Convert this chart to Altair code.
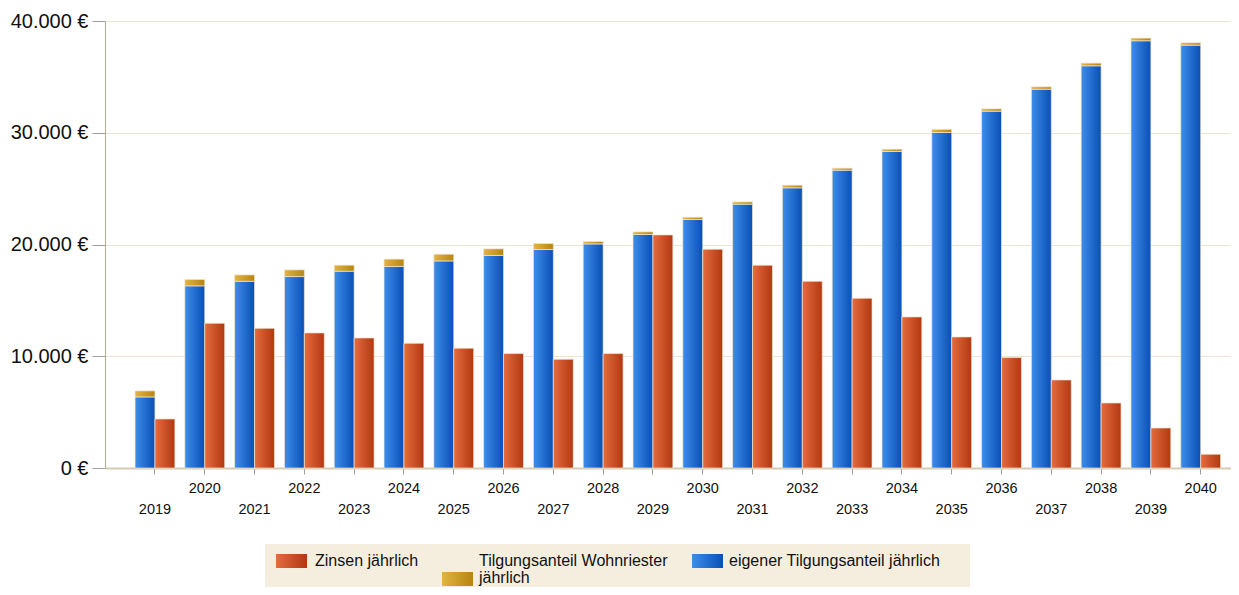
import altair as alt
import pandas as pd

years = list(range(2019, 2041))
eigen = [6360, 16300, 16710, 17130, 17610, 18030, 18530, 19020, 19550, 20050, 20900,
         22240, 23610, 25070, 26650, 28330, 30030, 31930, 33900, 35990, 38230, 37840]
riester = [540, 570, 570, 600, 540, 660, 600, 590, 540, 220, 230,
           200, 200, 240, 180, 200, 270, 210, 210, 240, 240, 210]
zinsen = [4390, 12950, 12500, 12090, 11640, 11160, 10720, 10240, 9730, 10240, 20860,
          19580, 18150, 16710, 15190, 13520, 11730, 9880, 7880, 5820, 3580, 1230]
legend_labels = ["Zinsen jährlich", "Tilgungsanteil Wohnriester\njährlich",
                 "eigener Tilgungsanteil jährlich"]

df = pd.DataFrame({"year": years, "eigen": eigen, "riester": riester, "zinsen": zinsen})

FONT = "Liberation Sans"
BG = "#f5eedf"


def grad(c0, c1):
    return alt.Gradient(
        gradient="linear",
        stops=[alt.GradientStop(color=c0, offset=0), alt.GradientStop(color=c1, offset=1)],
        x1=0, x2=1, y1=0, y2=0,
    )


blue_g = grad("#3d8dea", "#0a4fb6")
red_g = grad("#e56b3f", "#b13810")
gold_g = grad("#e3b344", "#b6850f")

xscale = alt.Scale(paddingInner=0.2, paddingOuter=0.406, align=0.743)
xaxis = alt.Axis(title=None, labels=False, ticks=True, tickSize=6, tickColor="#9a9a9a",
                 domainColor="#d6cab4", domainWidth=2, grid=False)
X = alt.X("year:O", scale=xscale, axis=xaxis)
XO = alt.XOffset("grp:N", scale=alt.Scale(domain=["T", "Z"], paddingInner=0, paddingOuter=0))

yaxis = alt.Axis(title=None, values=[0, 10000, 20000, 30000, 40000],
                 labelExpr="replace(format(datum.value, ','), ',', '.') + ' €'",
                 labelFontSize=20, labelColor="#111111", labelPadding=4, labelFont=FONT,
                 tickSize=13, tickColor="#a0a0a0", domainColor="#b5a88f",
                 gridColor="#eee4d2", grid=True)
yscale = alt.Scale(domain=[0, 40000], nice=False)

base = alt.Chart(df)
bar_style = dict(stroke="#efe6d2", strokeWidth=1, strokeOpacity=0.7)

red = base.transform_calculate(grp="'Z'").mark_bar(color=red_g, **bar_style).encode(
    x=X, xOffset=XO, y=alt.Y("zinsen:Q", scale=yscale, axis=yaxis))
blue = base.transform_calculate(grp="'T'").mark_bar(color=blue_g, **bar_style).encode(
    x=X, xOffset=XO, y=alt.Y("eigen:Q", scale=yscale, axis=yaxis))
gold = base.transform_calculate(grp="'T'", top="datum.eigen + datum.riester").mark_bar(
    color=gold_g, **bar_style).encode(
    x=X, xOffset=XO, y=alt.Y("eigen:Q", scale=yscale, axis=yaxis), y2="top:Q")

even = base.transform_filter("datum.year % 2 == 0").mark_text(
    fontSize=14.5, font=FONT, baseline="alphabetic", color="#111111").encode(
    x=X, y=alt.value(471.5), text="year:O")
odd = base.transform_filter("datum.year % 2 == 1").mark_text(
    fontSize=14.5, font=FONT, baseline="alphabetic", color="#111111").encode(
    x=X, y=alt.value(493), text="year:O")

S = 4  # vertical shift of legend block
BOTTOM = 566
leg_bg = alt.Chart(pd.DataFrame({"label": [legend_labels[0]]})).mark_rect(fill=BG).encode(
    x=alt.value(160), x2=alt.value(865), y=alt.value(527 - S), y2=alt.value(BOTTOM))


def swatch(g, x0, y0):
    return alt.Chart(pd.DataFrame({"label": [legend_labels[0]]})).mark_rect(fill=g).encode(
        x=alt.value(x0), x2=alt.value(x0 + 31), y=alt.value(y0 - S), y2=alt.value(y0 + 14 - S))


def ltext(i, x0, y0):
    return alt.Chart(pd.DataFrame({"label": [legend_labels[i]]})).mark_text(
        align="left", baseline="alphabetic", fontSize=16, font=FONT, color="#111111",
        lineBreak="\n", lineHeight=17).encode(
        x=alt.value(x0), y=alt.value(y0 - S), text="label:N")


legend = [leg_bg,
          swatch(red_g, 171, 537), ltext(0, 210, 549),
          swatch(gold_g, 337, 555), ltext(1, 374, 549),
          swatch(blue_g, 587, 537), ltext(2, 624, 549)]

chart = alt.layer(blue, gold, red, even, odd, *legend).properties(
    width=1126, height=447,
    autosize=alt.AutoSizeParams(type="none"),
    padding={"left": 97, "top": 13, "right": 0, "bottom": BOTTOM - 447},
    background="white",
).configure_view(fill=BG, strokeWidth=0).configure(font=FONT)

chart.save("out.html", embed_options={"renderer": "svg", "actions": False})
